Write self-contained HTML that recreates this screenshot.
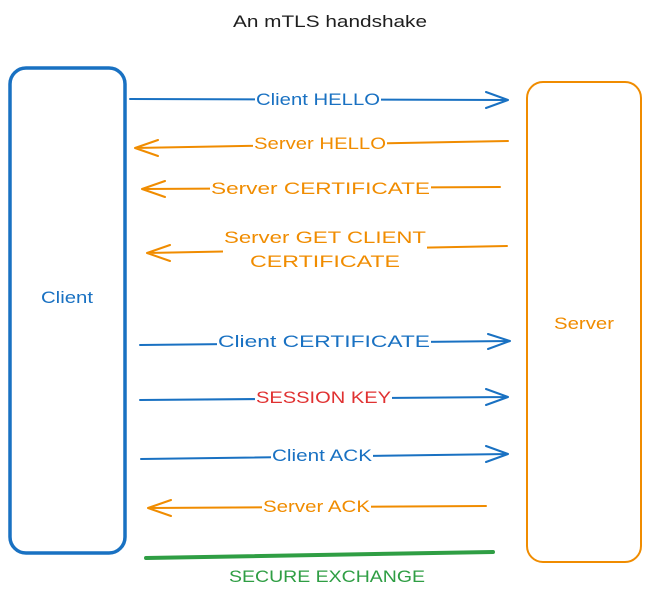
<!DOCTYPE html>
<html><head><meta charset="utf-8"><style>
html,body{margin:0;padding:0;background:#fff;}
svg{display:block;}
text{font-family:"Liberation Sans",sans-serif;font-size:17px;}
</style></head><body>
<svg width="651" height="599" viewBox="0 0 651 599" xmlns="http://www.w3.org/2000/svg">
<rect width="651" height="599" fill="#fff"/>
<text x="233" y="27" textLength="194" lengthAdjust="spacingAndGlyphs" fill="#1e1e1e" font-size="18">An mTLS handshake</text>
<rect x="10" y="68" width="115" height="485" rx="16" fill="none" stroke="#1971c2" stroke-width="3.5"/>
<rect x="527" y="82" width="114" height="480" rx="16" fill="none" stroke="#f08c00" stroke-width="2"/>
<text x="41" y="303" textLength="52" lengthAdjust="spacingAndGlyphs" fill="#1971c2">Client</text>
<text x="554" y="329" textLength="60" lengthAdjust="spacingAndGlyphs" fill="#f08c00">Server</text>
<g fill="none" stroke-width="2" stroke-linecap="round" stroke-linejoin="round">
<g stroke="#1971c2">
<path d="M130 99 L508 100 M486 92 L508 100 L486 108"/>
<path d="M140 345 L510 341 M488 334 L510 341 L488 349"/>
<path d="M140 400 L508 397 M486 389 L508 397 L486 405"/>
<path d="M141 459 L508 454 M486 446 L508 454 L486 462"/>
</g>
<g stroke="#f08c00">
<path d="M508 141 L135 148 M158 140 L135 148 L158 156"/>
<path d="M500 187 L142 189 M165 181 L142 189 L165 197"/>
<path d="M507 246 L147 253 M170 245 L147 253 L170 261"/>
<path d="M486 506 L148 508 M171 500 L148 508 L171 516"/>
</g>
<path d="M146 558 L493 552" stroke="#2f9e44" stroke-width="4"/>
</g>
<g fill="#fff">
<rect x="255" y="88" width="126" height="22"/>
<rect x="253" y="132" width="134" height="22"/>
<rect x="210" y="177" width="221" height="22"/>
<rect x="223" y="226" width="204" height="48"/>
<rect x="217" y="331" width="214" height="22"/>
<rect x="255" y="387" width="137" height="22"/>
<rect x="271" y="444" width="102" height="22"/>
<rect x="262" y="495" width="109" height="22"/>
</g>
<text x="256" y="105" textLength="124" lengthAdjust="spacingAndGlyphs" fill="#1971c2">Client HELLO</text>
<text x="254" y="149" textLength="132" lengthAdjust="spacingAndGlyphs" fill="#f08c00">Server HELLO</text>
<text x="211" y="194" textLength="219" lengthAdjust="spacingAndGlyphs" fill="#f08c00">Server CERTIFICATE</text>
<text x="224" y="243" textLength="202" lengthAdjust="spacingAndGlyphs" fill="#f08c00">Server GET CLIENT</text>
<text x="250" y="267" textLength="150" lengthAdjust="spacingAndGlyphs" fill="#f08c00">CERTIFICATE</text>
<text x="218" y="347" textLength="212" lengthAdjust="spacingAndGlyphs" fill="#1971c2">Client CERTIFICATE</text>
<text x="256" y="403" textLength="135" lengthAdjust="spacingAndGlyphs" fill="#e03131">SESSION KEY</text>
<text x="272" y="461" textLength="100" lengthAdjust="spacingAndGlyphs" fill="#1971c2">Client ACK</text>
<text x="263" y="512" textLength="107" lengthAdjust="spacingAndGlyphs" fill="#f08c00">Server ACK</text>
<text x="229" y="582" textLength="196" lengthAdjust="spacingAndGlyphs" fill="#2f9e44">SECURE EXCHANGE</text>
</svg>
</body></html>
